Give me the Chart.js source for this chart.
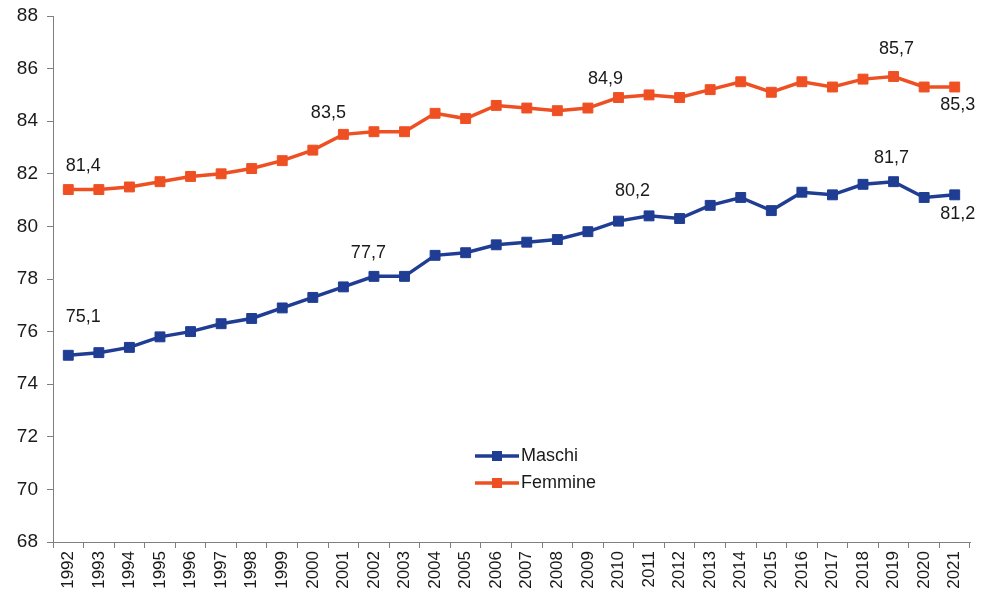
<!DOCTYPE html>
<html>
<head>
<meta charset="utf-8">
<script src="https://cdn.jsdelivr.net/npm/chart.js@4.4.1/dist/chart.umd.min.js"></script>
<style>
  html, body { margin: 0; padding: 0; background: #fff; }
  #wrap { width: 982px; height: 594px; }
</style>
</head>
<body>
<div id="wrap"><canvas id="chart"></canvas></div>
<script>
const years = ["1992","1993","1994","1995","1996","1997","1998","1999","2000","2001",
  "2002","2003","2004","2005","2006","2007","2008","2009","2010","2011",
  "2012","2013","2014","2015","2016","2017","2018","2019","2020","2021"];

const maschi = [75.1, 75.2, 75.4, 75.8, 76.0, 76.3, 76.5, 76.9, 77.3, 77.7,
  78.1, 78.1, 78.9, 79.0, 79.3, 79.4, 79.5, 79.8, 80.2, 80.4,
  80.3, 80.8, 81.1, 80.6, 81.3, 81.2, 81.6, 81.7, 81.1, 81.2];

const femmine = [81.4, 81.4, 81.5, 81.7, 81.9, 82.0, 82.2, 82.5, 82.9, 83.5,
  83.6, 83.6, 84.3, 84.1, 84.6, 84.5, 84.4, 84.5, 84.9, 85.0,
  84.9, 85.2, 85.5, 85.1, 85.5, 85.3, 85.6, 85.7, 85.3, 85.3];

// indexes of the points that carry a value label
const labelled = [0, 9, 18, 27, 29];

const BLUE = "#1f3d93";
const ORANGE = "#ef5023";
const FONT = "'Liberation Sans', Arial, sans-serif";

// label offsets per dataset, per labelled index: [dx, dy]
const labelOffsets = [
  { 0: [15, -38], 9: [25, -34], 18: [14, -30], 27: [-2, -24], 29: [3, 19] },
  { 0: [15, -24], 9: [-15, -21], 18: [-13, -18], 27: [3, -27], 29: [3, 18] },
];

const valueLabels = {
  id: "valueLabels",
  afterDatasetsDraw(chart) {
    const ctx = chart.ctx;
    ctx.save();
    ctx.font = "18px " + FONT;
    ctx.fillStyle = "#1a1a1a";
    ctx.textAlign = "center";
    ctx.textBaseline = "middle";
    chart.data.datasets.forEach((ds, di) => {
      const meta = chart.getDatasetMeta(di);
      labelled.forEach((i) => {
        const pt = meta.data[i];
        const off = labelOffsets[di][i] || [0, -22];
        const txt = ds.data[i].toFixed(1).replace(".", ",");
        ctx.fillText(txt, pt.x + off[0], pt.y + off[1]);
      });
    });
    ctx.restore();
  },
};

const innerLegend = {
  id: "innerLegend",
  afterDraw(chart) {
    const ctx = chart.ctx;
    const x0 = 475, x1 = 519;
    const rows = [456, 483];
    ctx.save();
    ctx.font = "18px " + FONT;
    ctx.textBaseline = "middle";
    chart.data.datasets.forEach((ds, i) => {
      const y = rows[i];
      ctx.strokeStyle = ds.borderColor;
      ctx.lineWidth = 3.5;
      ctx.beginPath();
      ctx.moveTo(x0, y);
      ctx.lineTo(x1, y);
      ctx.stroke();
      ctx.fillStyle = ds.borderColor;
      ctx.fillRect((x0 + x1) / 2 - 5, y - 5, 10, 10);
      ctx.fillStyle = "#1a1a1a";
      ctx.fillText(ds.label, x1 + 2, y);
    });
    ctx.restore();
  },
};

new Chart(document.getElementById("chart"), {
  type: "line",
  data: {
    labels: years,
    datasets: [
      {
        label: "Maschi",
        data: maschi,
        borderColor: BLUE,
        backgroundColor: BLUE,
        borderWidth: 3.5,
        pointStyle: "rect",
        pointRadius: 7,
        pointBorderWidth: 1,
        tension: 0,
      },
      {
        label: "Femmine",
        data: femmine,
        borderColor: ORANGE,
        backgroundColor: ORANGE,
        borderWidth: 3.5,
        pointStyle: "rect",
        pointRadius: 7,
        pointBorderWidth: 1,
        tension: 0,
      },
    ],
  },
  options: {
    responsive: true,
    maintainAspectRatio: false,
    animation: false,
    layout: { padding: { top: 16, right: 12, left: 0, bottom: 0 } },
    plugins: {
      legend: { display: false },
      tooltip: { enabled: false },
    },
    scales: {
      x: {
        offset: true,
        afterFit: (s) => { s.height = 52; },
        grid: {
          offset: true,
          drawOnChartArea: false,
          drawTicks: true,
          tickLength: 6,
          color: "#7f7f7f",
        },
        border: { display: true, color: "#7f7f7f", width: 1 },
        ticks: {
          maxRotation: 90,
          minRotation: 90,
          autoSkip: false,
          padding: 3,
          color: "#1a1a1a",
          font: { family: FONT, size: 17 },
        },
      },
      y: {
        min: 68,
        max: 88,
        afterFit: (s) => {
          s.width = 53;
          s.paddingTop = 0;
          s.paddingBottom = 0;
        },
        grid: {
          drawOnChartArea: false,
          drawTicks: true,
          tickLength: 6,
          color: "#7f7f7f",
        },
        border: { display: true, color: "#7f7f7f", width: 1 },
        ticks: {
          stepSize: 2,
          padding: 9,
          color: "#1a1a1a",
          font: { family: FONT, size: 19 },
        },
      },
    },
  },
  plugins: [valueLabels, innerLegend],
});
</script>
</body>
</html>
